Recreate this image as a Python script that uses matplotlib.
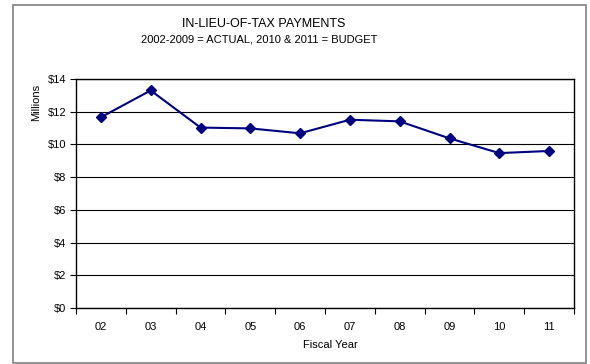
import matplotlib
matplotlib.use("Agg")
import matplotlib.pyplot as plt
from matplotlib.patches import Rectangle
from matplotlib.ticker import FixedLocator, FuncFormatter

plt.rcParams['font.family'] = ['Liberation Sans', 'DejaVu Sans']

years = ["02", "03", "04", "05", "06", "07", "08", "09", "10", "11"]
payments = [11.66, 13.3, 11.03, 10.98, 10.68, 11.51, 11.41, 10.37, 9.47, 9.6]
y_ticks = [0, 2, 4, 6, 8, 10, 12, 14]

W, H = 590, 364
fig = plt.figure(figsize=(W / 100, H / 100), dpi=100)

# outer chart border
fig.patches.append(Rectangle((13 / W, 1 - 363 / H), (586 - 13) / W, (363 - 5) / H,
                             transform=fig.transFigure, fill=False,
                             edgecolor='#808080', linewidth=1.2))

ax = fig.add_axes([76 / W, 1 - 308 / H, (574 - 76) / W, (308 - 79) / H])
x = list(range(len(years)))
ax.plot(x, payments, color='#000080', linewidth=1.5, marker='D', markersize=5.5,
        markerfacecolor='#000080', markeredgecolor='#000080', zorder=3)

ax.set_xlim(-0.5, len(years) - 0.5)
ax.set_ylim(0, 14)
ax.set_yticks(y_ticks)
ax.yaxis.set_major_formatter(FuncFormatter(lambda v, p: f"${v:.0f}"))
ax.set_xticks(x)
ax.set_xticklabels(years)
ax.xaxis.set_minor_locator(FixedLocator([i - 0.5 for i in range(len(years) + 1)]))
ax.tick_params(axis='x', which='major', length=0, pad=10, labelsize=8, colors='black')
ax.tick_params(axis='x', which='minor', length=4, width=0.8, direction='out')
ax.tick_params(axis='y', length=4, width=0.8, labelsize=8, pad=3)

ax.grid(axis='y', color='black', linewidth=0.8)
ax.set_axisbelow(True)
for s in ax.spines.values():
    s.set_linewidth(1.0)
    s.set_color('black')

fig.text(330 / W, 1 - 345 / H, "Fiscal Year", ha='center', va='center', fontsize=8)
fig.text(36 / W, 1 - 102 / H, "Millions", ha='center', va='center', rotation=90, fontsize=8)
fig.text(264 / W, 1 - 24 / H, "IN-LIEU-OF-TAX PAYMENTS", ha='center', va='center', fontsize=9)
fig.text(259 / W, 1 - 40 / H, "2002-2009 = ACTUAL, 2010 & 2011 = BUDGET", ha='center', va='center', fontsize=8)

fig.savefig("out.png", dpi=100)
